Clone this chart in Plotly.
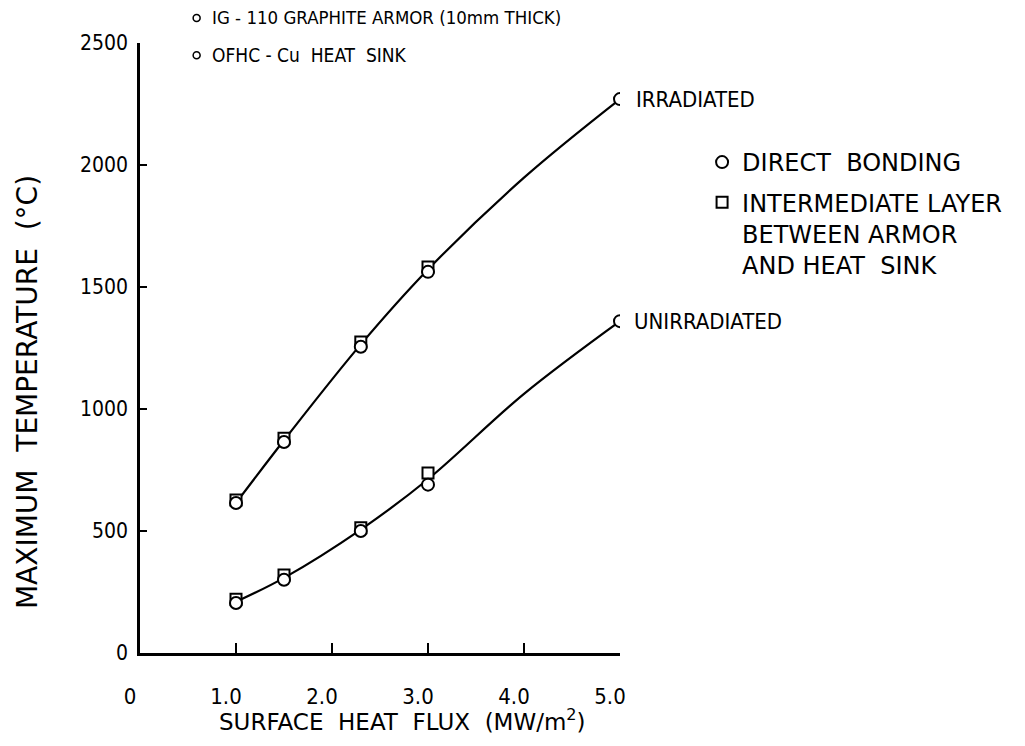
import plotly.graph_objects as go

# Data
flux = [1.0, 1.5, 2.3, 3.0, 5.0]
flux_inter = [1.0, 1.5, 2.3, 3.0]

irr_direct = [615, 865, 1255, 1562, 2270]
irr_inter = [627, 880, 1275, 1582]
unirr_direct = [205, 300, 500, 690, 1360]
unirr_inter = [220, 320, 513, 738]

# fitted curves as drawn in the reference
curve_x = [1.0, 1.5, 2.3, 3.0, 4.0, 5.0]
curve_irr = [615, 872, 1265, 1572, 1948, 2270]
curve_unirr = [210, 308, 506, 712, 1062, 1360]

x_ticks = [0, 1, 2, 3, 4, 5]
x_ticktext = ["0", "1.0", "2.0", "3.0", "4.0", "5.0"]
y_ticks = [0, 500, 1000, 1500, 2000, 2500]

COND = "DejaVu Sans Condensed, Liberation Sans Narrow, DejaVu Sans, sans-serif"
REG = "DejaVu Sans, Liberation Sans, sans-serif"
BLACK = "black"

fig = go.Figure()

for cy in (curve_irr, curve_unirr):
    fig.add_trace(go.Scatter(x=curve_x, y=cy, mode="lines",
                             line=dict(color=BLACK, width=2.2, shape="spline", smoothing=1.0),
                             showlegend=False, hoverinfo="skip"))

sq_name = "INTERMEDIATE LAYER<br>BETWEEN ARMOR<br>AND HEAT  SINK"
for i, sy in enumerate((irr_inter, unirr_inter)):
    fig.add_trace(go.Scatter(x=flux_inter, y=sy, mode="markers", name=sq_name,
                             legendgroup="sq", showlegend=(i == 0), legendrank=2,
                             marker=dict(symbol="square", size=11, color="white",
                                         line=dict(color=BLACK, width=2))))

for i, cyv in enumerate((irr_direct, unirr_direct)):
    fig.add_trace(go.Scatter(x=flux, y=cyv, mode="markers", name="DIRECT  BONDING",
                             legendgroup="ci", showlegend=(i == 0), legendrank=1,
                             marker=dict(symbol="circle", size=12, color="white",
                                         line=dict(color=BLACK, width=2))))

top_lines = ["IG - 110 GRAPHITE ARMOR (10mm THICK)", "OFHC - Cu  HEAT  SINK"]
top_y = [1.041, 0.98]

annotations = [
    dict(x=5.0, y=irr_direct[-1], xref="x", yref="y", text="IRRADIATED",
         xanchor="left", yanchor="middle", xshift=14, showarrow=False,
         font=dict(family=COND, size=22)),
    dict(x=5.0, y=unirr_direct[-1], xref="x", yref="y", text="UNIRRADIATED",
         xanchor="left", yanchor="middle", xshift=12, showarrow=False,
         font=dict(family=COND, size=22)),
    dict(x=-0.233, y=0.428, xref="paper", yref="paper",
         text="MAXIMUM  TEMPERATURE  (°C)", textangle=-90,
         xanchor="center", yanchor="middle", showarrow=False,
         font=dict(family=REG, size=28)),
    dict(x=0.546, y=-0.11, xref="paper", yref="paper",
         text="SURFACE  HEAT  FLUX  (MW/m<sup>2</sup>)",
         xanchor="center", yanchor="middle", showarrow=False,
         font=dict(family=REG, size=23)),
]
shapes = []
for txt, yy, sz in zip(top_lines, top_y, (18.5, 19)):
    annotations.append(dict(x=0.146, y=yy, xref="paper", yref="paper", text=txt,
                            xanchor="left", yanchor="middle", showarrow=False,
                            font=dict(family=COND, size=sz)))
    shapes.append(dict(type="circle", xref="paper", yref="paper",
                       xsizemode="pixel", ysizemode="pixel",
                       xanchor=0.118, yanchor=yy, x0=-3.5, x1=3.5, y0=-3.5, y1=3.5,
                       line=dict(color=BLACK, width=1.5), fillcolor="white"))

fig.update_layout(
    width=1025, height=746,
    margin=dict(l=140, r=405, t=43, b=93),
    paper_bgcolor="white", plot_bgcolor="white",
    font=dict(family=COND, size=22, color=BLACK),
    annotations=annotations, shapes=shapes,
    legend=dict(x=1.171, y=0.841, xanchor="left", yanchor="top",
                font=dict(family=REG, size=24), valign="top", tracegroupgap=6,
                bgcolor="rgba(0,0,0,0)", itemwidth=30),
    showlegend=True,
)

fig.update_xaxes(range=[0, 5], tickvals=x_ticks, ticktext=x_ticktext,
                 ticks="inside", ticklen=10, tickwidth=2, tickcolor=BLACK,
                 showline=True, linewidth=3, linecolor=BLACK,
                 showgrid=False, zeroline=False, ticklabelstandoff=22,
                 ticklabelshift=-10, tickfont=dict(family=COND, size=22))
fig.update_yaxes(range=[0, 2500], tickvals=y_ticks,
                 ticks="inside", ticklen=7, tickwidth=2, tickcolor=BLACK,
                 showline=True, linewidth=2.5, linecolor=BLACK,
                 showgrid=False, zeroline=False, ticklabelstandoff=5,
                 tickfont=dict(family=COND, size=21))

fig.write_html("out.html")
